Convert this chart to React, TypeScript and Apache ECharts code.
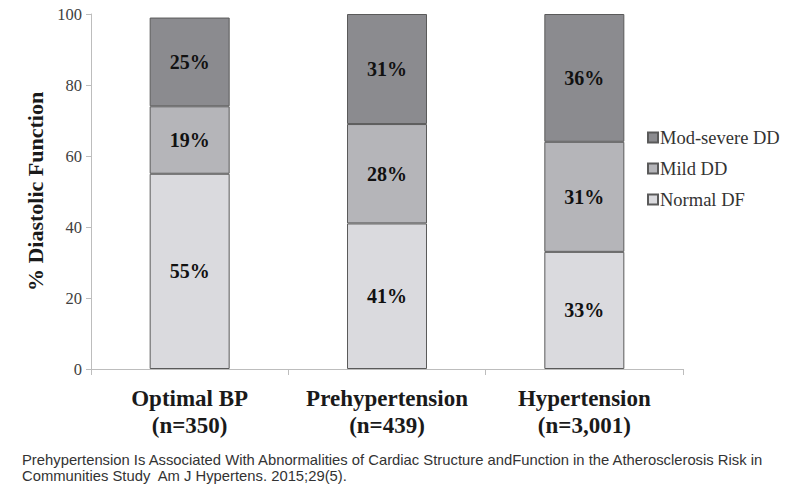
import React, { useEffect, useRef } from "react";
import * as echarts from "echarts";

const categories = ["Optimal BP\n(n=350)", "Prehypertension\n(n=439)", "Hypertension\n(n=3,001)"];
const normalDF = [55, 41, 33];
const mildDD = [19, 28, 31];
const modSevereDD = [25, 31, 36];
const yTicks = [0, 20, 40, 60, 80, 100];
const caption =
  "Prehypertension Is Associated With Abnormalities of Cardiac Structure andFunction in the Atherosclerosis Risk in\nCommunities Study  Am J Hypertens. 2015;29(5).";

const serif = "'Liberation Serif', 'Times New Roman', serif";

export default function App() {
  const ref = useRef<HTMLDivElement>(null);
  useEffect(() => {
    if (!ref.current) return;
    const chart = echarts.init(ref.current, null, { renderer: "svg" });
    const label = {
      show: true,
      position: "inside",
      formatter: (p: any) => p.value + "%",
      fontFamily: serif,
      fontWeight: "bold",
      fontSize: 20,
      color: "#111",
    };
    const mk = (name: string, data: number[], color: string) => ({
      name,
      type: "bar",
      stack: "total",
      data,
      barWidth: 80,
      label,
      itemStyle: { color, borderColor: "#5a5a5a", borderWidth: 1 },
      emphasis: { disabled: true },
    });
    chart.setOption({
      animation: false,
      grid: { left: 91, right: 111, top: 14, bottom: 116 },
      legend: {
        orient: "vertical",
        left: 642,
        top: 123,
        itemGap: 12,
        itemWidth: 10,
        itemHeight: 10,
        icon: "rect",
        data: ["Mod-severe DD", "Mild DD", "Normal DF"],
        textStyle: { fontFamily: serif, fontSize: 18.5, color: "#333", padding: [0, 0, 0, -3] },
      },
      xAxis: {
        type: "category",
        data: categories,
        axisLine: { lineStyle: { color: "#bdbdbd" } },
        axisTick: { show: true, length: 6, lineStyle: { color: "#bdbdbd" } },
        axisLabel: {
          interval: 0,
          fontFamily: serif,
          fontWeight: "bold",
          fontSize: 23,
          lineHeight: 27,
          color: "#1a1a1a",
          margin: 16,
        },
      },
      yAxis: {
        type: "value",
        min: 0,
        max: 100,
        interval: 20,
        name: "% Diastolic Function",
        nameLocation: "middle",
        nameGap: 31,
        nameTextStyle: { fontFamily: serif, fontWeight: "bold", fontSize: 22, color: "#1a1a1a" },
        axisLine: { show: true, lineStyle: { color: "#bdbdbd" } },
        axisTick: { show: true, length: 5, lineStyle: { color: "#bdbdbd" } },
        splitLine: { show: false },
        axisLabel: {
          fontFamily: serif,
          fontSize: 16.5,
          color: "#404040",
          margin: 9,
          formatter: (v: number) => (yTicks.includes(v) ? String(v) : ""),
        },
      },
      series: [
        mk("Normal DF", normalDF, "#dadade"),
        mk("Mild DD", mildDD, "#b5b5b9"),
        mk("Mod-severe DD", modSevereDD, "#8b8b8f"),
      ],
      graphic: [
        {
          type: "text",
          left: 22,
          top: 452,
          style: {
            text: caption,
            fontFamily: "'Liberation Sans', Arial, sans-serif",
            fontSize: 14.8,
            lineHeight: 16,
            fill: "#333",
          },
        },
      ],
    });
    return () => chart.dispose();
  }, []);
  return <div ref={ref} style={{ position: "absolute", left: 0, top: 0, width: 794, height: 485 }} />;
}
